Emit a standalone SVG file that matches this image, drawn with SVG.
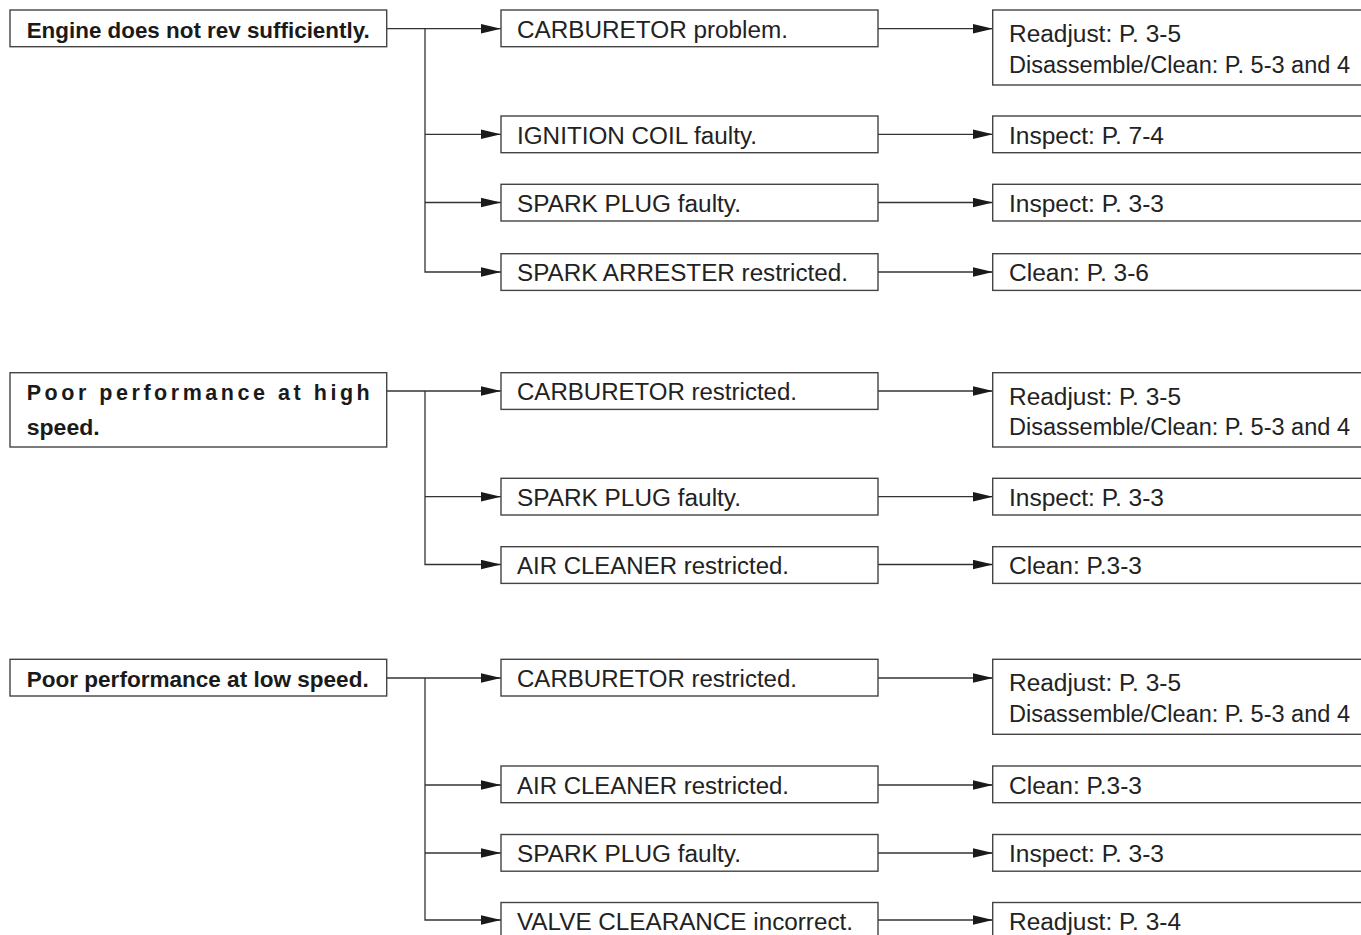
<svg xmlns="http://www.w3.org/2000/svg" width="1361" height="935" viewBox="0 0 1361 935">
<style>
.box{fill:#fff;stroke:#444;stroke-width:1.4}
.ln{fill:none;stroke:#333;stroke-width:1.3}
.t{font-family:"Liberation Sans",Arial,sans-serif;font-size:23px;fill:#222}
.b{font-family:"Liberation Sans",Arial,sans-serif;font-size:21.5px;font-weight:bold;fill:#1a1a1a}
</style>
<defs>
<marker id="ar" markerUnits="userSpaceOnUse" markerWidth="20" markerHeight="10" refX="20" refY="5" orient="auto" viewBox="0 0 20 10">
<polygon points="0,0.3 20,5 0,9.7" fill="#1a1a1a"/>
</marker>
</defs>
<rect width="1361" height="935" fill="#fff"/>

<g id="connectors">
<path class="ln" d="M387,28.7H501" marker-end="url(#ar)"/>
<path class="ln" d="M425,28.7V272H501" marker-end="url(#ar)"/>
<path class="ln" d="M425,134.3H501" marker-end="url(#ar)"/>
<path class="ln" d="M425,202.5H501" marker-end="url(#ar)"/>
<path class="ln" d="M878,28.7H993" marker-end="url(#ar)"/>
<path class="ln" d="M878,134.3H993" marker-end="url(#ar)"/>
<path class="ln" d="M878,202.5H993" marker-end="url(#ar)"/>
<path class="ln" d="M878,272H993" marker-end="url(#ar)"/>
<path class="ln" d="M387,391H501" marker-end="url(#ar)"/>
<path class="ln" d="M425,391V564.5H501" marker-end="url(#ar)"/>
<path class="ln" d="M425,496.7H501" marker-end="url(#ar)"/>
<path class="ln" d="M878,391H993" marker-end="url(#ar)"/>
<path class="ln" d="M878,496.7H993" marker-end="url(#ar)"/>
<path class="ln" d="M878,564.5H993" marker-end="url(#ar)"/>
<path class="ln" d="M387,678H501" marker-end="url(#ar)"/>
<path class="ln" d="M425,678V920H501" marker-end="url(#ar)"/>
<path class="ln" d="M425,785H501" marker-end="url(#ar)"/>
<path class="ln" d="M425,853H501" marker-end="url(#ar)"/>
<path class="ln" d="M878,678H993" marker-end="url(#ar)"/>
<path class="ln" d="M878,785H993" marker-end="url(#ar)"/>
<path class="ln" d="M878,853H993" marker-end="url(#ar)"/>
<path class="ln" d="M878,920H993" marker-end="url(#ar)"/>
</g>

<g id="s1">
<rect class="box" x="10" y="10" width="376.7" height="36.7"/>
<text class="b" x="26.7" y="37.7" textLength="343" lengthAdjust="spacingAndGlyphs">Engine does not rev sufficiently.</text>
</g>
<g id="c1a">
<rect class="box" x="501" y="10" width="377" height="36.7"/>
<text class="t" x="517" y="37.7" textLength="271" lengthAdjust="spacingAndGlyphs">CARBURETOR problem.</text>
</g>
<g id="r1a">
<rect class="box" x="992.7" y="10" width="400" height="75"/>
<text class="t" x="1009" y="42" textLength="172" lengthAdjust="spacingAndGlyphs">Readjust: P. 3-5</text>
<text class="t" x="1009" y="72.5" textLength="341" lengthAdjust="spacingAndGlyphs">Disassemble/Clean: P. 5-3 and 4</text>
</g>
<g id="c1b">
<rect class="box" x="501" y="116" width="377" height="36.7"/>
<text class="t" x="517" y="143.7" textLength="240" lengthAdjust="spacingAndGlyphs">IGNITION COIL faulty.</text>
</g>
<g id="r1b">
<rect class="box" x="992.7" y="116" width="400" height="36.7"/>
<text class="t" x="1009" y="143.7" textLength="155" lengthAdjust="spacingAndGlyphs">Inspect: P. 7-4</text>
</g>
<g id="c1c">
<rect class="box" x="501" y="184.3" width="377" height="36.7"/>
<text class="t" x="517" y="212" textLength="224" lengthAdjust="spacingAndGlyphs">SPARK PLUG faulty.</text>
</g>
<g id="r1c">
<rect class="box" x="992.7" y="184.3" width="400" height="36.7"/>
<text class="t" x="1009" y="212" textLength="155" lengthAdjust="spacingAndGlyphs">Inspect: P. 3-3</text>
</g>
<g id="c1d">
<rect class="box" x="501" y="253.7" width="377" height="36.7"/>
<text class="t" x="517" y="281.4" textLength="331" lengthAdjust="spacingAndGlyphs">SPARK ARRESTER restricted.</text>
</g>
<g id="r1d">
<rect class="box" x="992.7" y="253.7" width="400" height="36.7"/>
<text class="t" x="1009" y="281.4" textLength="140" lengthAdjust="spacingAndGlyphs">Clean: P. 3-6</text>
</g>

<g id="s2">
<rect class="box" x="10" y="372.7" width="376.7" height="74.3"/>
<text class="b" x="26.7" y="400" textLength="343" lengthAdjust="spacing">Poor performance at high</text>
<text class="b" x="26.7" y="434.5" textLength="73" lengthAdjust="spacingAndGlyphs">speed.</text>
</g>
<g id="c2a">
<rect class="box" x="501" y="372.7" width="377" height="36.7"/>
<text class="t" x="517" y="400.4" textLength="280" lengthAdjust="spacingAndGlyphs">CARBURETOR restricted.</text>
</g>
<g id="r2a">
<rect class="box" x="992.7" y="372.7" width="400" height="74.3"/>
<text class="t" x="1009" y="404.7" textLength="172" lengthAdjust="spacingAndGlyphs">Readjust: P. 3-5</text>
<text class="t" x="1009" y="435.2" textLength="341" lengthAdjust="spacingAndGlyphs">Disassemble/Clean: P. 5-3 and 4</text>
</g>
<g id="c2b">
<rect class="box" x="501" y="478.3" width="377" height="36.7"/>
<text class="t" x="517" y="506" textLength="224" lengthAdjust="spacingAndGlyphs">SPARK PLUG faulty.</text>
</g>
<g id="r2b">
<rect class="box" x="992.7" y="478.3" width="400" height="36.7"/>
<text class="t" x="1009" y="506" textLength="155" lengthAdjust="spacingAndGlyphs">Inspect: P. 3-3</text>
</g>
<g id="c2c">
<rect class="box" x="501" y="546.7" width="377" height="36.7"/>
<text class="t" x="517" y="574.4" textLength="272" lengthAdjust="spacingAndGlyphs">AIR CLEANER restricted.</text>
</g>
<g id="r2c">
<rect class="box" x="992.7" y="546.7" width="400" height="36.7"/>
<text class="t" x="1009" y="574.4" textLength="133" lengthAdjust="spacingAndGlyphs">Clean: P.3-3</text>
</g>

<g id="s3">
<rect class="box" x="10" y="659.3" width="376.7" height="36.7"/>
<text class="b" x="26.7" y="687" textLength="342" lengthAdjust="spacingAndGlyphs">Poor performance at low speed.</text>
</g>
<g id="c3a">
<rect class="box" x="501" y="659.3" width="377" height="36.7"/>
<text class="t" x="517" y="687" textLength="280" lengthAdjust="spacingAndGlyphs">CARBURETOR restricted.</text>
</g>
<g id="r3a">
<rect class="box" x="992.7" y="659.3" width="400" height="75"/>
<text class="t" x="1009" y="691.3" textLength="172" lengthAdjust="spacingAndGlyphs">Readjust: P. 3-5</text>
<text class="t" x="1009" y="721.8" textLength="341" lengthAdjust="spacingAndGlyphs">Disassemble/Clean: P. 5-3 and 4</text>
</g>
<g id="c3b">
<rect class="box" x="501" y="766" width="377" height="36.7"/>
<text class="t" x="517" y="793.7" textLength="272" lengthAdjust="spacingAndGlyphs">AIR CLEANER restricted.</text>
</g>
<g id="r3b">
<rect class="box" x="992.7" y="766" width="400" height="36.7"/>
<text class="t" x="1009" y="793.7" textLength="133" lengthAdjust="spacingAndGlyphs">Clean: P.3-3</text>
</g>
<g id="c3c">
<rect class="box" x="501" y="834.5" width="377" height="36.7"/>
<text class="t" x="517" y="862.2" textLength="224" lengthAdjust="spacingAndGlyphs">SPARK PLUG faulty.</text>
</g>
<g id="r3c">
<rect class="box" x="992.7" y="834.5" width="400" height="36.7"/>
<text class="t" x="1009" y="862.2" textLength="155" lengthAdjust="spacingAndGlyphs">Inspect: P. 3-3</text>
</g>
<g id="c3d">
<rect class="box" x="501" y="902.5" width="377" height="40"/>
<text class="t" x="517" y="930" textLength="336" lengthAdjust="spacingAndGlyphs">VALVE CLEARANCE incorrect.</text>
</g>
<g id="r3d">
<rect class="box" x="992.7" y="902.5" width="400" height="40"/>
<text class="t" x="1009" y="930" textLength="172" lengthAdjust="spacingAndGlyphs">Readjust: P. 3-4</text>
</g>
</svg>
